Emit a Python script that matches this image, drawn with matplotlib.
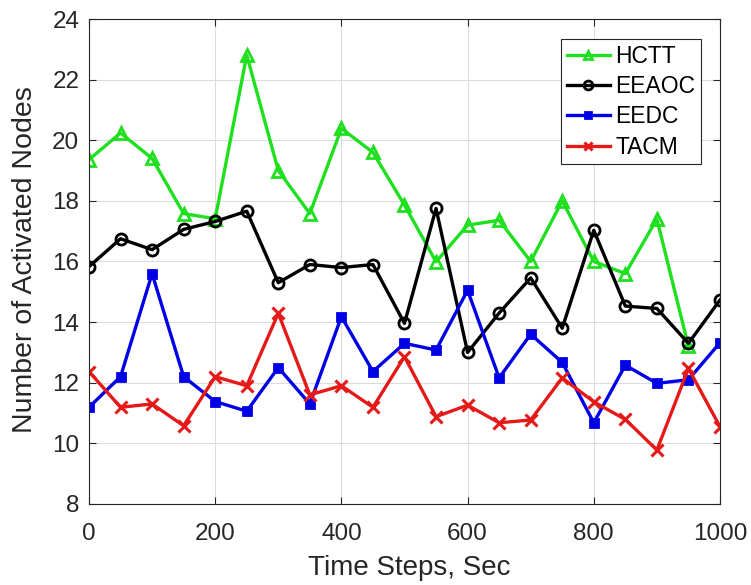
import numpy as np
import matplotlib.pyplot as plt

plt.rcParams['font.family'] = ['Liberation Sans', 'DejaVu Sans']

# Time steps (sec)
t = [0, 50, 100, 150, 200, 250, 300, 350, 400, 450, 500,
     550, 600, 650, 700, 750, 800, 850, 900, 950, 1000]

hctt = [19.36, 20.24, 19.4, 17.58, 17.41, 22.81, 19.0, 17.58, 20.39, 19.6, 17.86,
        15.99, 17.2, 17.36, 16.0, 18.0, 16.0, 15.6, 17.4, 13.2, np.nan]
eeaoc = [15.83, 16.75, 16.39, 17.06, 17.32, 17.66, 15.3, 15.9, 15.8, 15.9, 13.96,
         17.75, 13.0, 14.3, 15.46, 13.8, 17.03, 14.53, 14.45, 13.3, 14.73]
eedc = [11.19, 12.2, 15.6, 12.2, 11.38, 11.06, 12.5, 11.3, 14.18, 12.37, 13.3,
        13.08, 15.05, 12.16, 13.6, 12.67, 10.68, 12.58, 11.98, 12.1, 13.32]
tacm = [12.37, 11.19, 11.3, 10.58, 12.2, 11.9, 14.29, 11.6, 11.9, 11.19, 12.86,
        10.88, 11.26, 10.68, 10.77, 12.16, 11.37, 10.79, 9.78, 12.47, 10.55]

fig = plt.figure(figsize=(7.51, 5.85), dpi=100)
ax = fig.add_axes([0.1185, 0.1385, 0.8402, 0.829])

ax.plot(t, hctt, '-^', color='#1ee01e', lw=2.4, ms=8, mew=2, mfc='none', label='HCTT')
ax.plot(t, eeaoc, '-o', color='black', lw=2.4, ms=8, mew=2, mfc='none', label='EEAOC')
ax.plot(t, eedc, '-s', color='#0000e6', lw=2.4, ms=6, mew=2, mfc='#0000e6', label='EEDC')
ax.plot(t, tacm, '-x', color='#e61919', lw=2.4, ms=8, mew=2.2, label='TACM')

ax.set_xlim(0, 1000)
ax.set_ylim(8, 24)
ax.set_xticks(range(0, 1001, 200))
ax.set_yticks(range(8, 25, 2))
ax.grid(True, color='#dcdcdc', lw=0.8)
ax.tick_params(direction='in', top=True, right=True, labelsize=17.5,
               colors='#262626', length=5)
ax.tick_params(axis='x', pad=14)
ax.tick_params(axis='y', pad=7)
for s in ax.spines.values():
    s.set_color('#262626')
    s.set_linewidth(0.8)

ax.set_xlabel('Time Steps, Sec', fontsize=20, color='#262626')
ax.set_ylabel('Number of Activated Nodes', fontsize=20.5, color='#262626')
ax.xaxis.set_label_coords(0.507, -0.105)
ax.yaxis.set_label_coords(-0.081, 0.503)

leg = ax.legend(loc='upper right', bbox_to_anchor=(0.970, 0.959), fontsize=16.5,
                fancybox=False, edgecolor='#262626', framealpha=1,
                handlelength=1.85, handletextpad=0.25, borderpad=0.25,
                labelspacing=0.32, borderaxespad=0, markerscale=0.8)
leg.get_frame().set_linewidth(0.8)

fig.savefig('out.png', dpi=100)
